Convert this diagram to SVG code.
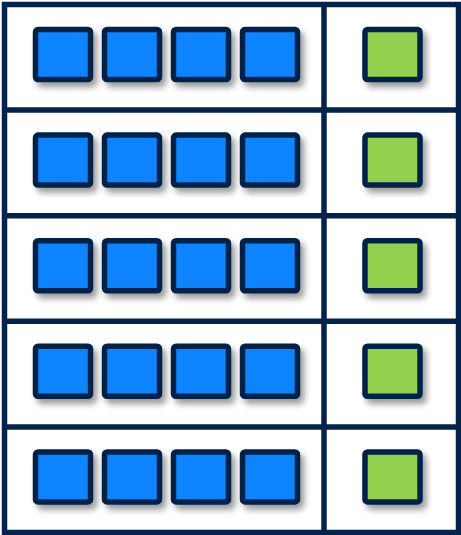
<svg xmlns="http://www.w3.org/2000/svg" width="461" height="535" viewBox="0 0 461 535">
<defs>
<filter id="sh" x="-20%" y="-20%" width="150%" height="150%">
<feGaussianBlur in="SourceAlpha" stdDeviation="3"/>
<feOffset dx="4" dy="5" result="b"/>
<feComponentTransfer><feFuncA type="linear" slope="0.4"/></feComponentTransfer>
<feMerge><feMergeNode/><feMergeNode in="SourceGraphic"/></feMerge>
</filter>
<style>
.g{stroke:#03234a;stroke-width:5.5;fill:none}
.b{fill:#0b83fd;stroke:#03234a;stroke-width:5.5;filter:url(#sh)}
.n{fill:#92d050;stroke:#03234a;stroke-width:5.5;filter:url(#sh)}
</style>
<g id="sq">
<rect class="b" x="35.5" y="29.5" width="55" height="50" rx="2.5"/>
<rect class="b" x="104.5" y="29.5" width="55" height="50" rx="2.5"/>
<rect class="b" x="173.5" y="29.5" width="55" height="50" rx="2.5"/>
<rect class="b" x="242.5" y="29.5" width="55" height="50" rx="2.5"/>
<rect class="n" x="365" y="29.5" width="55" height="50" rx="2.5"/>
</g>
</defs>
<rect width="461" height="535" fill="#ffffff"/>
<g id="grid" class="g">
<rect x="4.5" y="4.5" width="454" height="528"/>
<line x1="4.5" y1="110.1" x2="458.5" y2="110.1"/>
<line x1="4.5" y1="215.7" x2="458.5" y2="215.7"/>
<line x1="4.5" y1="321.3" x2="458.5" y2="321.3"/>
<line x1="4.5" y1="426.9" x2="458.5" y2="426.9"/>
<line x1="324" y1="4.5" x2="324" y2="532.5"/>
</g>
<g id="row1"><use href="#sq"/></g>
<g id="row2"><use href="#sq" y="105.6"/></g>
<g id="row3"><use href="#sq" y="211.2"/></g>
<g id="row4"><use href="#sq" y="316.8"/></g>
<g id="row5"><use href="#sq" y="422.4"/></g>
</svg>
